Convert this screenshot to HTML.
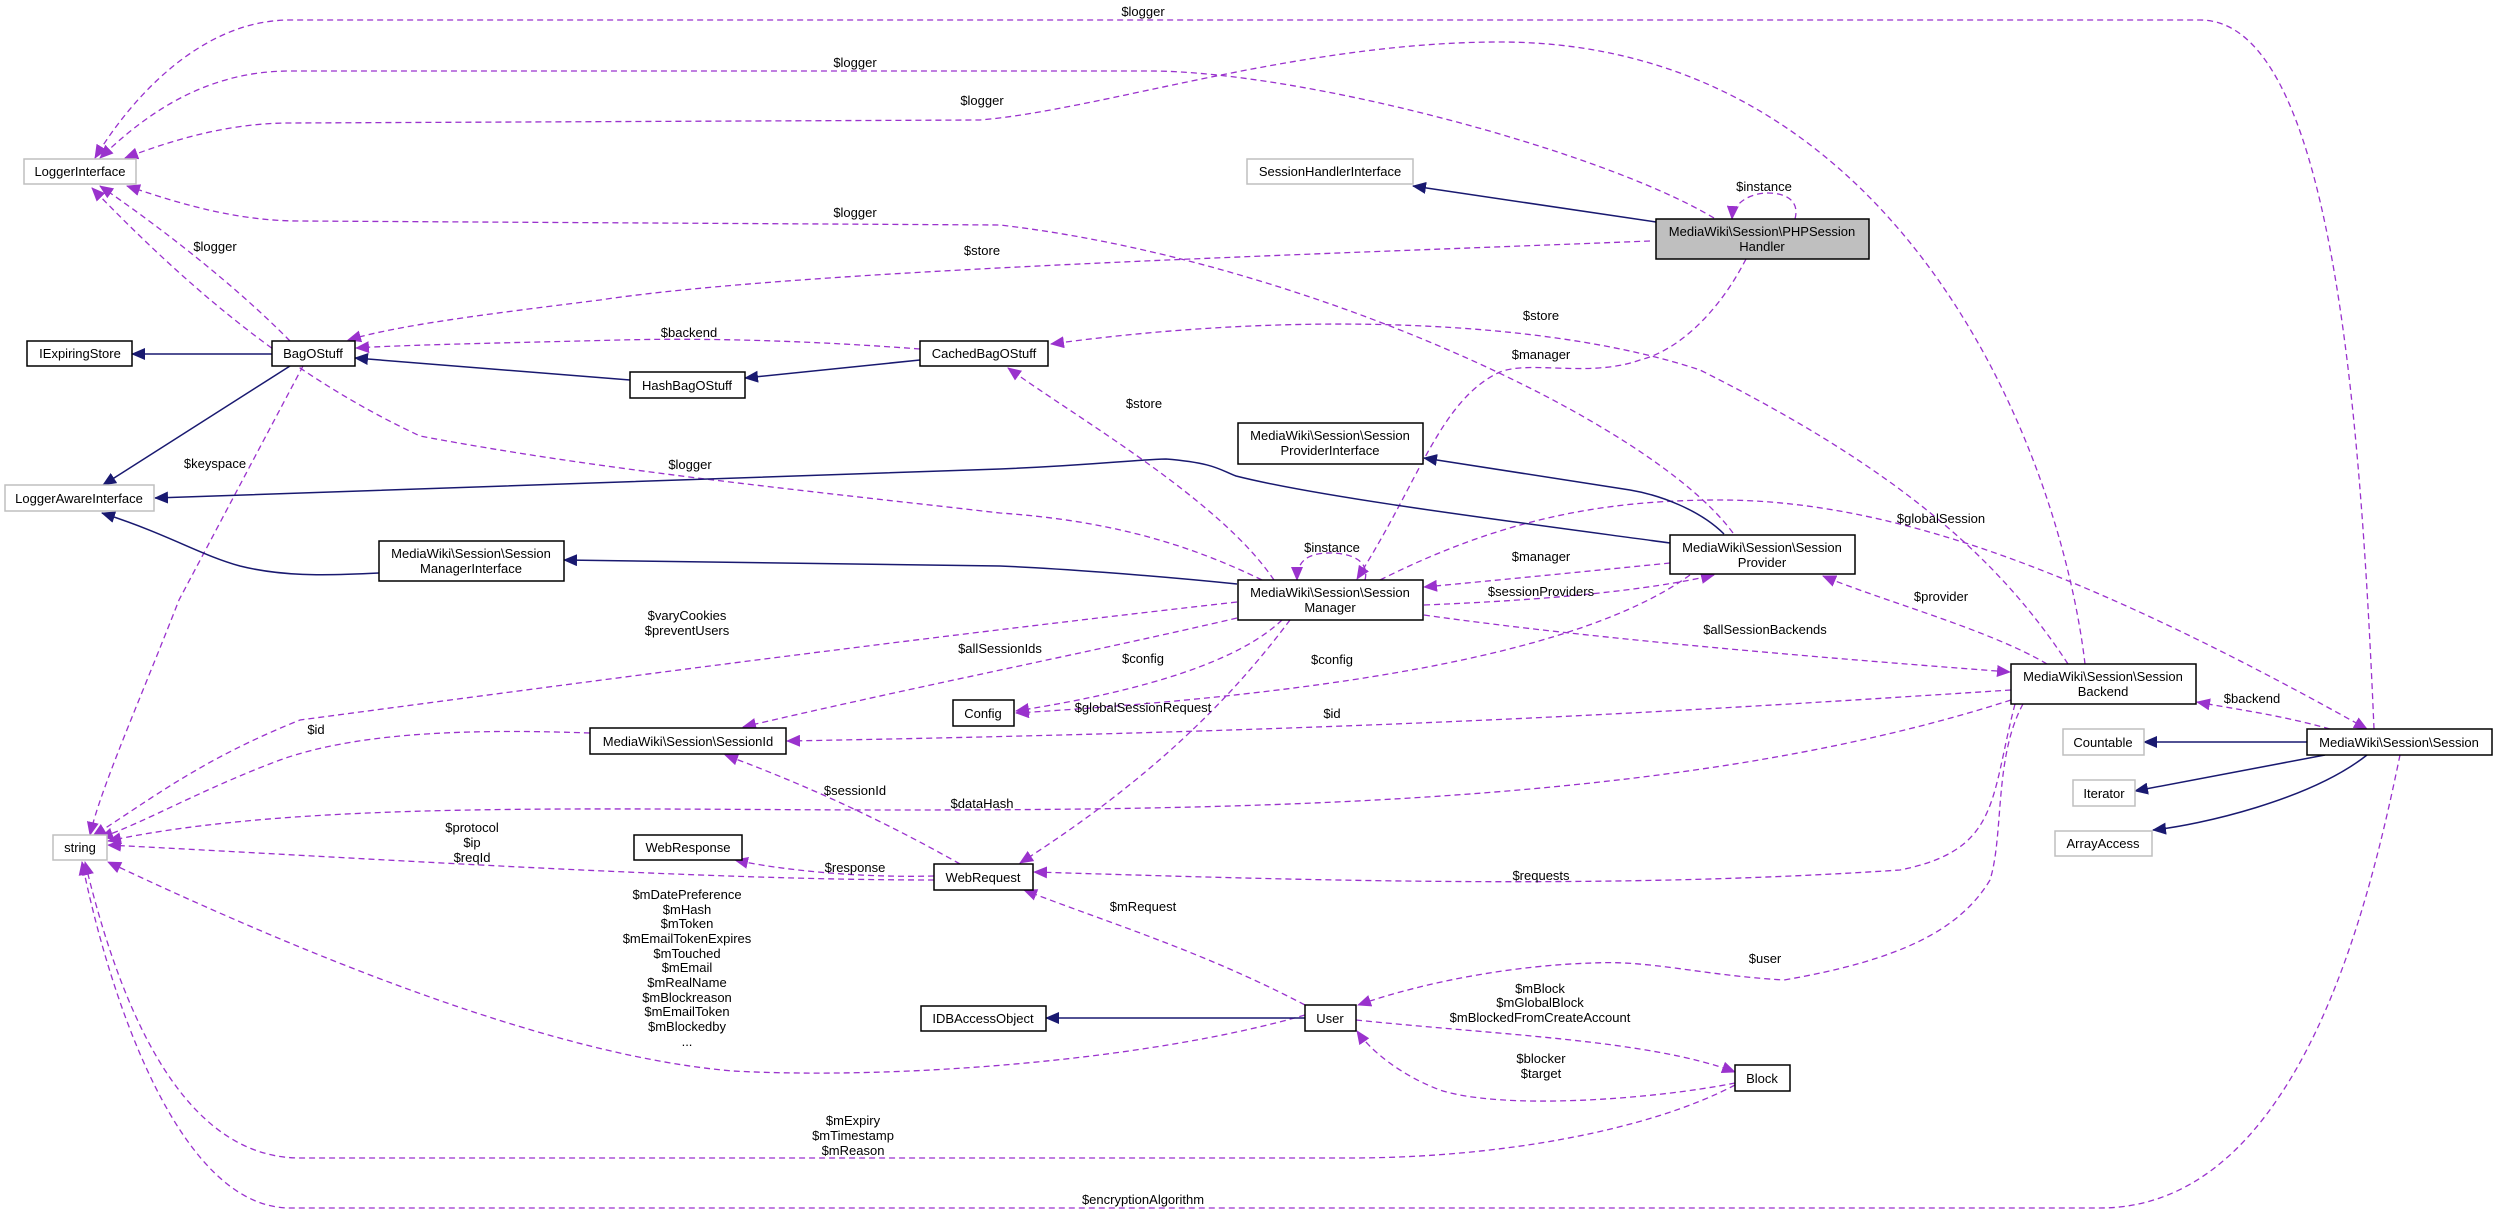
<!DOCTYPE html>
<html><head><meta charset="utf-8"><style>
html,body{margin:0;padding:0;background:#fff;}
svg{display:block;}
text{font-family:"Liberation Sans",sans-serif;font-size:13px;fill:#000;}
.d{fill:none;stroke:#9a32cd;stroke-width:1.3;stroke-dasharray:6,4;}
.s{fill:none;stroke:#191970;stroke-width:1.5;}
.n{fill:#fff;stroke:#000;stroke-width:1.5;}
.g{fill:#fff;stroke:#bfbfbf;stroke-width:1.5;}
</style></head><body>
<svg width="2499" height="1215" viewBox="0 0 2499 1215" xmlns="http://www.w3.org/2000/svg">
<defs>
<marker id="ap" markerUnits="userSpaceOnUse" markerWidth="14" markerHeight="12" refX="13" refY="6" orient="auto"><path d="M0,0 L14,6 L0,12 z" fill="#9a32cd"/></marker>
<marker id="an" markerUnits="userSpaceOnUse" markerWidth="14" markerHeight="12" refX="13" refY="6" orient="auto"><path d="M0,0 L14,6 L0,12 z" fill="#191970"/></marker>
</defs>

<!-- dashed edges -->
<g class="d">
<path marker-end="url(#ap)" d="M2374,729 C2360,400 2330,20 2200,20 L290,20 C200,20 130,100 95,158"/>
<path marker-end="url(#ap)" d="M1714,218 C1600,150 1300,71 1150,71 L290,71 C200,71 140,120 100,158"/>
<path marker-end="url(#ap)" d="M2085,664 C2060,450 1900,42 1500,42 C1300,42 1100,110 980,120 L290,123 C220,123 160,145 125,158"/>
<path marker-end="url(#ap)" d="M1733,533 C1650,420 1300,260 1000,225 L300,221 C230,221 170,200 127,186"/>
<path marker-end="url(#ap)" d="M1650,241 C1300,255 800,270 600,300 C480,315 400,325 348,340"/>
<path marker-end="url(#ap)" d="M290,341 C230,280 150,220 100,186"/>
<path marker-end="url(#ap)" d="M920,349 C800,340 700,338 620,340 C500,343 400,345 356,348"/>
<path marker-end="url(#ap)" d="M2068,664 C2000,560 1900,470 1700,370 C1550,320 1300,310 1051,344"/>
<path marker-end="url(#ap)" d="M1746,259 C1720,310 1680,350 1640,360 C1590,378 1530,360 1500,372 C1440,400 1420,480 1357,579"/>
<path marker-end="url(#ap)" d="M1274,580 C1220,500 1080,420 1008,368"/>
<path marker-end="url(#ap)" d="M1262,580 C1180,540 1100,520 1000,513 C800,490 600,470 420,436 C300,380 200,300 92,188"/>
<path marker-end="url(#ap)" d="M1670,563 C1600,570 1500,580 1424,587"/>
<path marker-end="url(#ap)" d="M1365,580 C1370,560 1350,553 1330,553 C1305,553 1297,563 1297,580"/>
<path marker-end="url(#ap)" d="M1795,219 C1800,200 1785,193 1768,193 C1750,193 1733,203 1732,219"/>
<path marker-end="url(#ap)" d="M1424,605 C1550,600 1650,590 1714,575"/>
<path marker-end="url(#ap)" d="M1380,580 C1500,520 1600,500 1720,500 C1900,500 2100,580 2367,729"/>
<path marker-end="url(#ap)" d="M2047,664 C1990,630 1880,600 1823,576"/>
<path marker-end="url(#ap)" d="M1424,615 C1600,640 1850,660 2010,672"/>
<path marker-end="url(#ap)" d="M1237,618 C1100,650 900,690 743,727"/>
<path marker-end="url(#ap)" d="M1282,620 C1240,660 1150,690 1016,711"/>
<path marker-end="url(#ap)" d="M1690,575 C1600,640 1400,690 1016,713"/>
<path marker-end="url(#ap)" d="M1290,620 C1230,700 1150,780 1020,863"/>
<path marker-end="url(#ap)" d="M2011,690 C1700,710 1400,730 787,741"/>
<path marker-end="url(#ap)" d="M2011,700 C1700,800 1300,810 900,810 C600,810 300,800 108,841"/>
<path marker-end="url(#ap)" d="M590,733 C450,728 350,735 280,760 C200,790 150,820 100,838"/>
<path marker-end="url(#ap)" d="M1237,602 C900,640 600,680 300,720 C200,760 150,800 93,836"/>
<path marker-end="url(#ap)" d="M303,366 L179,600 C140,700 100,790 90,835"/>
<path marker-end="url(#ap)" d="M934,880 C700,880 400,860 108,845"/>
<path marker-end="url(#ap)" d="M934,876 C860,878 780,870 735,860"/>
<path marker-end="url(#ap)" d="M960,864 C900,830 820,790 725,755"/>
<path marker-end="url(#ap)" d="M2015,704 C1990,800 2000,850 1900,870 C1600,890 1300,880 1034,872"/>
<path marker-end="url(#ap)" d="M1305,1005 C1200,950 1100,920 1024,890"/>
<path marker-end="url(#ap)" d="M1305,1015 C1150,1060 900,1080 733,1071 C600,1060 400,1000 108,862"/>
<path marker-end="url(#ap)" d="M2023,704 C1994,757 2004,835 1990,880 C1960,930 1900,960 1784,980 C1700,975 1650,960 1593,963 C1520,965 1430,980 1358,1005"/>
<path marker-end="url(#ap)" d="M1356,1020 C1500,1035 1650,1040 1735,1072"/>
<path marker-end="url(#ap)" d="M1735,1083 C1650,1100 1500,1110 1440,1090 C1400,1075 1370,1050 1357,1031"/>
<path marker-end="url(#ap)" d="M1735,1085 C1650,1130 1500,1158 1350,1158 L300,1158 C200,1158 130,1050 85,862"/>
<path marker-end="url(#ap)" d="M2400,755 C2370,900 2300,1208 2100,1208 L290,1208 C180,1208 110,1000 82,862"/>
<path marker-end="url(#ap)" d="M2330,729 C2280,715 2240,710 2197,702"/>
</g>

<!-- solid edges -->
<g class="s">
<path marker-end="url(#an)" d="M1656,222 L1413,186"/>
<path marker-end="url(#an)" d="M272,354 L132,354"/>
<path marker-end="url(#an)" d="M630,380 L355,358"/>
<path marker-end="url(#an)" d="M920,360 L745,378"/>
<path marker-end="url(#an)" d="M290,366 L103,485"/>
<path marker-end="url(#an)" d="M1670,543 C1500,520 1319,497 1236,476 C1220,470 1215,463 1166,459 C1130,460 1096,465 1000,469 L155,498"/>
<path marker-end="url(#an)" d="M1724,534 C1700,510 1660,495 1630,490 L1424,458"/>
<path marker-end="url(#an)" d="M1237,584 C1150,575 1050,568 1000,566 L564,560"/>
<path marker-end="url(#an)" d="M379,573 C320,576 280,576 240,566 C200,555 170,535 102,513"/>
<path marker-end="url(#an)" d="M1305,1018 L1046,1018"/>
<path marker-end="url(#an)" d="M2307,742 L2144,742"/>
<path marker-end="url(#an)" d="M2325,755 L2135,791"/>
<path marker-end="url(#an)" d="M2367,755 C2310,800 2200,825 2153,830"/>
</g>

<!-- nodes -->
<rect class="g" x="24" y="159" width="112" height="25"/><text x="80" y="176" text-anchor="middle">LoggerInterface</text>
<rect class="n" x="27" y="341" width="105" height="25"/><text x="80" y="358" text-anchor="middle">IExpiringStore</text>
<rect class="n" x="272" y="341" width="83" height="25"/><text x="313" y="358" text-anchor="middle">BagOStuff</text>
<rect class="n" x="630" y="372" width="115" height="26"/><text x="687" y="390" text-anchor="middle">HashBagOStuff</text>
<rect class="n" x="920" y="341" width="128" height="25"/><text x="984" y="358" text-anchor="middle">CachedBagOStuff</text>
<rect class="g" x="5" y="485" width="149" height="26"/><text x="79" y="503" text-anchor="middle">LoggerAwareInterface</text>
<rect class="n" x="379" y="541" width="185" height="40"/><text x="471" y="558" text-anchor="middle">MediaWiki\Session\Session</text><text x="471" y="573" text-anchor="middle">ManagerInterface</text>
<rect class="g" x="1247" y="159" width="166" height="25"/><text x="1330" y="176" text-anchor="middle">SessionHandlerInterface</text>
<rect x="1656" y="219" width="213" height="40" fill="#bfbfbf" stroke="#000" stroke-width="1.5"/><text x="1762" y="236" text-anchor="middle">MediaWiki\Session\PHPSession</text><text x="1762" y="251" text-anchor="middle">Handler</text>
<rect class="n" x="1238" y="423" width="185" height="41"/><text x="1330" y="440" text-anchor="middle">MediaWiki\Session\Session</text><text x="1330" y="455" text-anchor="middle">ProviderInterface</text>
<rect class="n" x="1670" y="535" width="185" height="39"/><text x="1762" y="552" text-anchor="middle">MediaWiki\Session\Session</text><text x="1762" y="567" text-anchor="middle">Provider</text>
<rect class="n" x="1238" y="580" width="185" height="40"/><text x="1330" y="597" text-anchor="middle">MediaWiki\Session\Session</text><text x="1330" y="612" text-anchor="middle">Manager</text>
<rect class="g" x="53" y="835" width="54" height="25"/><text x="80" y="852" text-anchor="middle">string</text>
<rect class="n" x="590" y="728" width="196" height="26"/><text x="688" y="746" text-anchor="middle">MediaWiki\Session\SessionId</text>
<rect class="n" x="953" y="700" width="61" height="26"/><text x="983" y="718" text-anchor="middle">Config</text>
<rect class="n" x="634" y="835" width="108" height="25"/><text x="688" y="852" text-anchor="middle">WebResponse</text>
<rect class="n" x="934" y="864" width="99" height="26"/><text x="983" y="882" text-anchor="middle">WebRequest</text>
<rect class="n" x="921" y="1006" width="125" height="25"/><text x="983" y="1023" text-anchor="middle">IDBAccessObject</text>
<rect class="n" x="2011" y="664" width="185" height="40"/><text x="2103" y="681" text-anchor="middle">MediaWiki\Session\Session</text><text x="2103" y="696" text-anchor="middle">Backend</text>
<rect class="n" x="2307" y="729" width="185" height="26"/><text x="2399" y="747" text-anchor="middle">MediaWiki\Session\Session</text>
<rect class="g" x="2063" y="729" width="81" height="26"/><text x="2103" y="747" text-anchor="middle">Countable</text>
<rect class="g" x="2073" y="780" width="62" height="26"/><text x="2104" y="798" text-anchor="middle">Iterator</text>
<rect class="g" x="2055" y="831" width="97" height="25"/><text x="2103" y="848" text-anchor="middle">ArrayAccess</text>
<rect class="n" x="1305" y="1005" width="51" height="26"/><text x="1330" y="1023" text-anchor="middle">User</text>
<rect class="n" x="1735" y="1065" width="55" height="26"/><text x="1762" y="1083" text-anchor="middle">Block</text>

<!-- edge labels -->
<g text-anchor="middle">
<text x="1143" y="16">$logger</text>
<text x="855" y="67">$logger</text>
<text x="982" y="105">$logger</text>
<text x="1764" y="191">$instance</text>
<text x="855" y="217">$logger</text>
<text x="982" y="255">$store</text>
<text x="215" y="251">$logger</text>
<text x="689" y="337">$backend</text>
<text x="1541" y="320">$store</text>
<text x="1541" y="359">$manager</text>
<text x="1144" y="408">$store</text>
<text x="215" y="468">$keyspace</text>
<text x="690" y="469">$logger</text>
<text x="1332" y="552">$instance</text>
<text x="1541" y="561">$manager</text>
<text x="1941" y="523">$globalSession</text>
<text x="1541" y="596">$sessionProviders</text>
<text x="1941" y="601">$provider</text>
<text x="687" y="620">$varyCookies</text>
<text x="687" y="635">$preventUsers</text>
<text x="1000" y="653">$allSessionIds</text>
<text x="1143" y="663">$config</text>
<text x="1332" y="664">$config</text>
<text x="1765" y="634">$allSessionBackends</text>
<text x="1143" y="712">$globalSessionRequest</text>
<text x="1332" y="718">$id</text>
<text x="316" y="734">$id</text>
<text x="2252" y="703">$backend</text>
<text x="855" y="795">$sessionId</text>
<text x="982" y="808">$dataHash</text>
<text x="472" y="832">$protocol</text>
<text x="472" y="847">$ip</text>
<text x="472" y="862">$reqId</text>
<text x="855" y="872">$response</text>
<text x="1541" y="880">$requests</text>
<text x="1143" y="911">$mRequest</text>
<text x="687" y="899">$mDatePreference</text>
<text x="687" y="914">$mHash</text>
<text x="687" y="928">$mToken</text>
<text x="687" y="943">$mEmailTokenExpires</text>
<text x="687" y="958">$mTouched</text>
<text x="687" y="972">$mEmail</text>
<text x="687" y="987">$mRealName</text>
<text x="687" y="1002">$mBlockreason</text>
<text x="687" y="1016">$mEmailToken</text>
<text x="687" y="1031">$mBlockedby</text>
<text x="687" y="1046">...</text>
<text x="1765" y="963">$user</text>
<text x="1540" y="993">$mBlock</text>
<text x="1540" y="1007">$mGlobalBlock</text>
<text x="1540" y="1022">$mBlockedFromCreateAccount</text>
<text x="1541" y="1063">$blocker</text>
<text x="1541" y="1078">$target</text>
<text x="853" y="1125">$mExpiry</text>
<text x="853" y="1140">$mTimestamp</text>
<text x="853" y="1155">$mReason</text>
<text x="1143" y="1204">$encryptionAlgorithm</text>
</g>
</svg>
</body></html>
